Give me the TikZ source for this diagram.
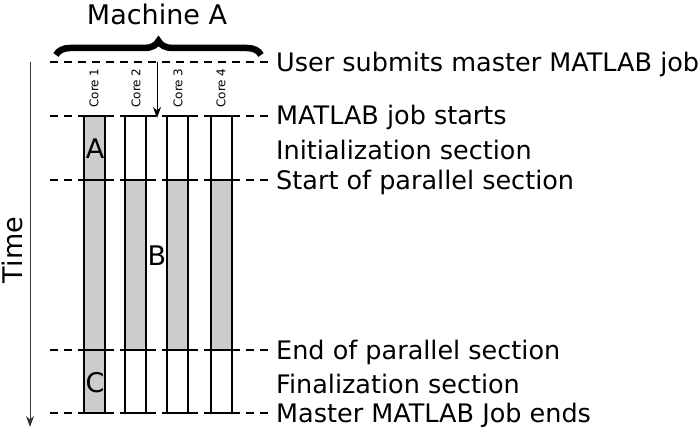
\documentclass[tikz,border=0pt]{standalone}
\usepackage{fontspec}
\setmainfont{DejaVu Sans}
\usetikzlibrary{decorations.pathreplacing,arrows.meta}
\begin{document}
\begin{tikzpicture}[x=1pt,y=-1pt,
 dl/.style={dashed,dash pattern=on 8pt off 6pt,line width=1.2pt},
 col/.style={line width=1.3pt},
 lab/.style={anchor=west,font=\fontsize{25.5}{28}\selectfont,inner sep=0},
 core/.style={rotate=90,font=\fontsize{12}{14}\selectfont,inner sep=0},
 big/.style={font=\fontsize{27}{30}\selectfont,inner sep=0}]
\useasboundingbox (0,0) rectangle (699,430);
% dashed lines
\foreach \y in {62,116,180,350,413}{\draw[dl] (50,\y) -- (268,\y);}
% gray fills
\fill[gray!40] (84,116) rectangle (106,413);
\foreach \x in {125,167,211}{\fill[gray!40] (\x,180) rectangle (\x+21,350);}
% columns
\foreach \x in {84,125,167,211}{
 \draw[col] (\x,116) -- (\x,413);
 \draw[col] (\x+21,116) -- (\x+21,413);
 \foreach \y in {116,180,350,413}{\draw[col] (\x-5,\y) -- (\x+26,\y);}
}
\node[core] (c1) at (94,88) {Core 1};
\node[core] (c2) at (136,88) {Core 2};
\node[core] (c3) at (178,88) {Core 3};
\node[core] (c4) at (221,88) {Core 4};
\node[big] (A) at (95,149) {A};
\node[big] (B) at (157,256) {B};
\node[big] (C) at (95,383) {C};
% arrows
\coordinate (s) at (157,62); \coordinate (e) at (157,118);
\draw[-{Stealth[length=11pt,width=8pt]},line width=1pt] (s) -- (e);
\coordinate (t0) at (30,62); \coordinate (t1) at (30,427);
\draw[-{Stealth[length=11pt,width=8pt]},line width=1pt,gray!40!black] (t0) -- (t1);
\node[big,rotate=90] (time) at (12,250) {Time};
% brace
\draw[line width=6.5pt,decorate,decoration={brace,amplitude=14pt}] (56,55) -- (261,55);
\node[big] (mA) at (157,14) {Machine A};
% labels
\node[lab] (l1) at (276,64) {User submits master MATLAB job};
\node[lab] (l2) at (276,117) {MATLAB job starts};
\node[lab] (l3) at (276,150) {Initialization section};
\node[lab] (l4) at (276,182) {Start of parallel section};
\node[lab] (l5) at (276,352) {End of parallel section};
\node[lab] (l6) at (276,384) {Finalization section};
\node[lab] (l7) at (276,415) {Master MATLAB Job ends};
\end{tikzpicture}
\end{document}
